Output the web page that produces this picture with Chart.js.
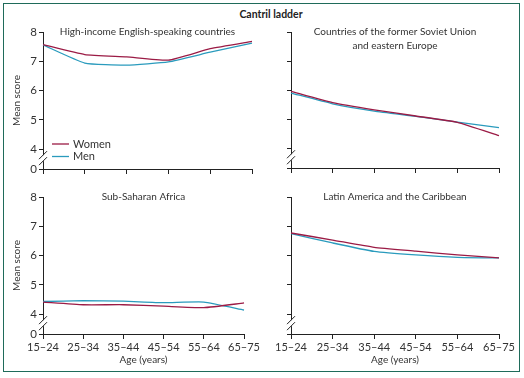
<!DOCTYPE html>
<html>
<head>
<meta charset="utf-8">
<script src="https://cdn.jsdelivr.net/npm/chart.js@4/dist/chart.umd.min.js"></script>
<style>
  body { margin: 0; background: #fff; }
  #wrap { position: relative; width: 524px; height: 378px; overflow: hidden; font-family: Lato, "Open Sans", sans-serif; }
  #frame { position: absolute; left: 3px; top: 3px; width: 515px; height: 367px; border: 1.5px solid #1f6b5a; }
  #mainTitle { position: absolute; left: 171px; width: 200px; top: 8px; text-align: center; font-weight: bold; font-size: 10.5px; color: #222; }
  .panel { position: absolute; }
</style>
</head>
<body>
<div id="wrap">
  <div id="frame"></div>
  <div id="mainTitle">Cantril ladder</div>
  <div class="panel" style="left:0;top:0;width:262px;height:185px"><canvas id="c1"></canvas></div>
  <div class="panel" style="left:262px;top:0;width:262px;height:185px"><canvas id="c2"></canvas></div>
  <div class="panel" style="left:0;top:185px;width:262px;height:193px"><canvas id="c3"></canvas></div>
  <div class="panel" style="left:262px;top:185px;width:262px;height:193px"><canvas id="c4"></canvas></div>
</div>
<script>
// Datos (puntuación media, escalera de Cantril)
const ageGroups = ['15–24', '25–34', '35–44', '45–54', '55–64', '65–75'];
const yTicks = [4, 5, 6, 7, 8];
const seriesNames = ['Women', 'Men'];

const highIncomeWomen = [7.57, 7.23, 7.15, 7.04, 7.43, 7.68];
const highIncomeMen   = [7.56, 6.94, 6.87, 6.98, 7.31, 7.62];

const sovietWomen = [5.96, 5.57, 5.32, 5.11, 4.89, 4.43];
const sovietMen   = [5.90, 5.53, 5.28, 5.10, 4.90, 4.71];

const africaWomen = [4.41, 4.32, 4.32, 4.27, 4.22, 4.38];
const africaMen   = [4.43, 4.46, 4.44, 4.39, 4.41, 4.14];

const latinWomen = [6.77, 6.53, 6.28, 6.15, 6.02, 5.92];
const latinMen   = [6.75, 6.43, 6.14, 6.02, 5.94, 5.92];

const womenColor = '#9b1b45';
const menColor = '#2a9bbd';
const axisColor = '#222';
const yMin = 3.32; // punto "0" después del corte del eje

Chart.defaults.font.family = 'Lato, "Open Sans", sans-serif';
Chart.defaults.color = '#333';

// Título del panel, corte del eje y leyenda
const panelPlugin = {
  id: 'panelDeco',
  afterDraw(chart, args, opts) {
    const ctx = chart.ctx;
    const area = chart.chartArea;
    const y = chart.scales.y;
    ctx.save();
    // título del panel
    ctx.fillStyle = '#333';
    ctx.font = '10px Lato, "Open Sans", sans-serif';
    ctx.textAlign = 'center';
    ctx.textBaseline = 'middle';
    const cx = (area.left + area.right) / 2;
    opts.title.forEach((t, i) => ctx.fillText(t, cx, area.top + i * 13.5));

    // corte del eje //
    const yc = y.getPixelForValue(3.69);
    const x0 = area.left;
    ctx.fillStyle = '#fff';
    ctx.fillRect(x0 - 2, yc - 3, 4, 6);
    ctx.strokeStyle = axisColor;
    ctx.lineWidth = 1;
    [-3, 3].forEach(d => {
      ctx.beginPath();
      ctx.moveTo(x0 - 4, yc + d + 4);
      ctx.lineTo(x0 + 4, yc + d - 4);
      ctx.stroke();
    });

    // leyenda
    if (opts.legend) {
      ctx.textAlign = 'left';
      ctx.font = '11px Lato, "Open Sans", sans-serif';
      chart.data.datasets.forEach((ds, i) => {
        const ly = area.bottom - 25 + i * 12.5;
        ctx.strokeStyle = ds.borderColor;
        ctx.lineWidth = 1.3;
        ctx.beginPath();
        ctx.moveTo(area.left + 9, ly);
        ctx.lineTo(area.left + 26, ly);
        ctx.stroke();
        ctx.fillStyle = '#333';
        ctx.fillText(ds.label, area.left + 30, ly);
      });
    }
    ctx.restore();
  }
};

function makePanel(id, title, women, men, o) {
  new Chart(document.getElementById(id), {
    type: 'line',
    data: {
      labels: ageGroups,
      datasets: [
        { label: seriesNames[0], data: women, borderColor: womenColor, borderWidth: 1.3, pointRadius: 0, tension: 0.15 },
        { label: seriesNames[1], data: men, borderColor: menColor, borderWidth: 1.3, pointRadius: 0, tension: 0.15 }
      ]
    },
    options: {
      responsive: true,
      maintainAspectRatio: false,
      animation: false,
      layout: { padding: o.padding },
      plugins: {
        legend: { display: false },
        tooltip: { enabled: false },
        panelDeco: { title: title, legend: o.legend }
      },
      scales: {
        x: {
          offset: false,
          grid: { drawOnChartArea: false, drawTicks: true, tickLength: 5, color: axisColor },
          border: { color: axisColor, width: 1 },
          ticks: { display: o.xLabels, maxRotation: 0, autoSkip: false, padding: 2, color: '#333', font: { size: 11 } },
          title: { display: o.xLabels, text: 'Age (years)', color: '#333', font: { size: 10 }, padding: { top: 0, bottom: 4 } },
          afterFit(s) { s.height = o.xHeight; }
        },
        y: {
          min: yMin,
          max: 8,
          afterBuildTicks(s) { s.ticks = [yMin].concat(yTicks).map(v => ({ value: v })); },
          grid: { drawOnChartArea: false, drawTicks: true, tickLength: 4, color: axisColor },
          border: { color: axisColor, width: 1 },
          ticks: {
            display: o.yLabels, padding: 2, color: '#333', font: { size: 11.5 },
            callback: v => (v === yMin ? '0' : String(v))
          },
          title: { display: o.yLabels, text: 'Mean score', color: '#333', font: { size: 10 }, padding: { top: 11, bottom: 0 } },
          afterFit(s) { s.width = o.yWidth; }
        }
      }
    },
    plugins: [panelPlugin]
  });
}

makePanel('c1', ['High-income English-speaking countries'], highIncomeWomen, highIncomeMen,
  { padding: { left: 0, top: 32, right: 10, bottom: 8 }, xHeight: 8, yWidth: 43, xLabels: false, yLabels: true, legend: true });
makePanel('c2', ['Countries of the former Soviet Union', 'and eastern Europe'], sovietWomen, sovietMen,
  { padding: { left: 0, top: 32, right: 25, bottom: 9 }, xHeight: 8, yWidth: 29, xLabels: false, yLabels: false, legend: false });
makePanel('c3', ['Sub-Saharan Africa'], africaWomen, africaMen,
  { padding: { left: 0, top: 12, right: 10, bottom: 8 }, xHeight: 36, yWidth: 43, xLabels: true, yLabels: true, legend: false });
makePanel('c4', ['Latin America and the Caribbean'], latinWomen, latinMen,
  { padding: { left: 0, top: 12, right: 25, bottom: 8 }, xHeight: 36, yWidth: 29, xLabels: true, yLabels: false, legend: false });
</script>
</body>
</html>
